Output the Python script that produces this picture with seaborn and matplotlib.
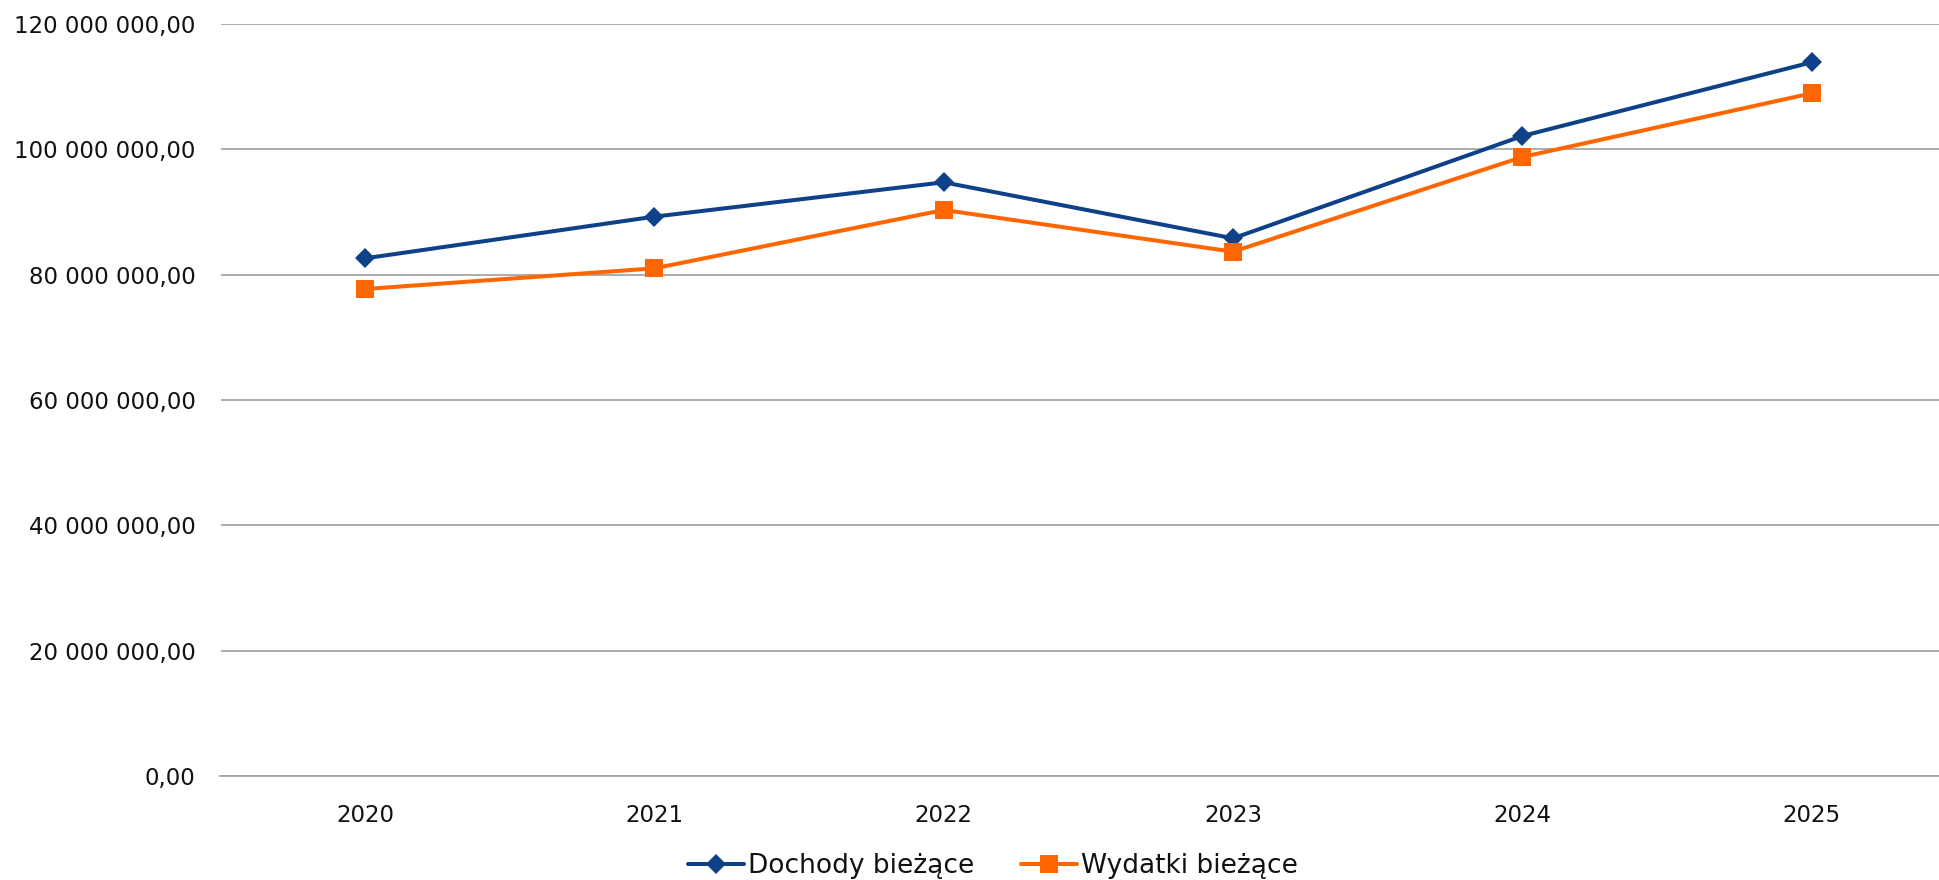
# Dochody i wydatki bieżące 2020-2025
import pandas as pd
import matplotlib
matplotlib.use("Agg")
import matplotlib.pyplot as plt
import seaborn as sns
from matplotlib.ticker import FuncFormatter, MultipleLocator

# Data
years = ["2020", "2021", "2022", "2023", "2024", "2025"]
dochody = [82_610_000, 89_260_000, 94_740_000, 85_800_000, 102_130_000, 113_890_000]
wydatki = [77_710_000, 81_010_000, 90_320_000, 83_670_000, 98_780_000, 108_940_000]
series_names = ["Dochody bieżące", "Wydatki bieżące"]

BLUE = "#0F4188"
ORANGE = "#FF6600"
GRID = "#A6A6A6"


def pl_format(v, pos):
    """120 000 000,00 style labels"""
    s = f"{v:,.2f}"
    return s.replace(",", " ").replace(".", ",")


def build_frame():
    df = pd.DataFrame({"Rok": years * 2,
                       "Kwota": dochody + wydatki,
                       "Seria": [series_names[0]] * len(years) + [series_names[1]] * len(years)})
    return df


def main():
    sns.set_theme(style="white")
    plt.rcParams["font.family"] = ["DejaVu Sans"]

    df = build_frame()

    fig = plt.figure(figsize=(19.39, 8.80), dpi=100)
    ax = fig.add_axes([220.5 / 1939, 104 / 880, (1939 - 220.5) / 1939, 752 / 880])

    sns.lineplot(data=df, x="Rok", y="Kwota", hue="Seria", style="Seria",
                 palette={series_names[0]: BLUE, series_names[1]: ORANGE},
                 markers={series_names[0]: "D", series_names[1]: "s"},
                 dashes=False, linewidth=2.9, markersize=12,
                 markeredgewidth=0, ax=ax, sort=False)

    # diamond a bit smaller than the square, like in Excel
    for line in ax.lines:
        if line.get_marker() == "D":
            line.set_markersize(10.5)
        elif line.get_marker() == "s":
            line.set_markersize(13)

    ax.set_ylim(0, 120_000_000)
    ax.set_xlim(-0.5, 5.44)
    ax.yaxis.set_major_locator(MultipleLocator(20_000_000))
    ax.yaxis.set_major_formatter(FuncFormatter(pl_format))
    ax.grid(axis="y", color=GRID, linewidth=1.3)
    ax.set_axisbelow(True)
    for side in ["top", "right", "left"]:
        ax.spines[side].set_visible(False)
    ax.spines["bottom"].set_color(GRID)
    ax.spines["bottom"].set_linewidth(1.3)
    ax.tick_params(axis="both", length=0, labelsize=16.5, colors="#111111")
    ax.tick_params(axis="y", pad=18)
    ax.tick_params(axis="x", pad=20)
    ax.set_xlabel("")
    ax.set_ylabel("")

    handles, labels = ax.get_legend_handles_labels()
    for h in handles:
        if h.get_marker() == "D":
            h.set_markersize(10.5)
        elif h.get_marker() == "s":
            h.set_markersize(13)
    ax.legend(handles, labels, loc="center", bbox_to_anchor=(993 / 1939, 14 / 880),
              bbox_transform=fig.transFigure, ncol=2, frameon=False, fontsize=19,
              handlelength=2.1, handletextpad=0.15, columnspacing=1.8,
              labelcolor="#111111")

    fig.savefig("out.png", dpi=100)
    plt.close(fig)


if __name__ == "__main__":
    main()
